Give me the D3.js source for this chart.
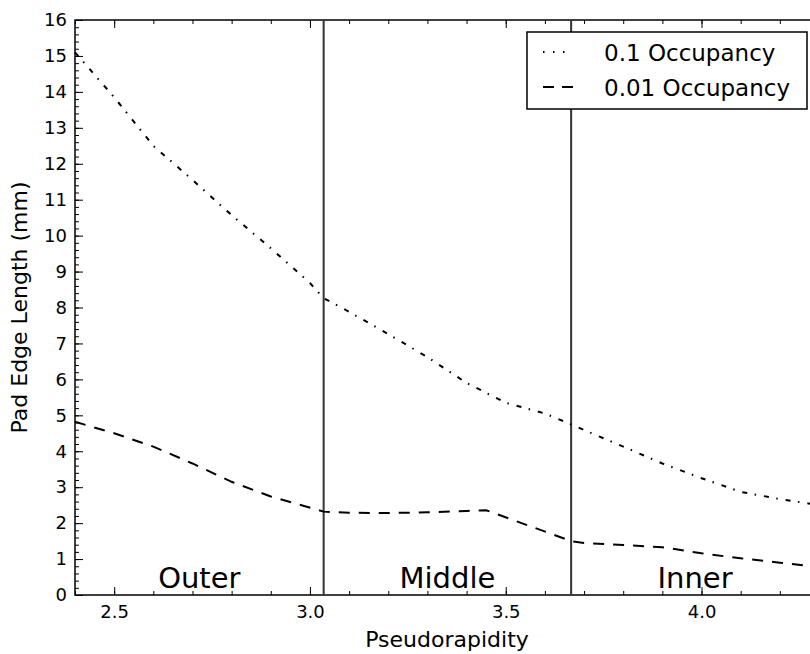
<!DOCTYPE html>
<html>
<head>
<meta charset="utf-8">
<script src="https://cdn.jsdelivr.net/npm/d3@7"></script>
<style>
  body { margin: 0; background: #fff; }
  svg text { font-family: "DejaVu Sans", sans-serif; fill: #000; }
</style>
</head>
<body>
<div id="chart"></div>
<script>
// pseudorapidity samples and pad edge lengths (mm)
const etaHigh = [2.4, 2.5, 2.6, 2.7, 2.8, 2.9, 3.0, 3.035, 3.1, 3.2, 3.3, 3.4, 3.5, 3.6, 3.667, 3.7, 3.8, 3.9, 4.0, 4.1, 4.2, 4.3];
const occHigh = [15.1, 13.85, 12.5, 11.55, 10.57, 9.65, 8.68, 8.26, 7.88, 7.26, 6.62, 5.9, 5.35, 5.05, 4.75, 4.59, 4.13, 3.66, 3.25, 2.87, 2.67, 2.5];
const etaLow = [2.4, 2.5, 2.6, 2.7, 2.8, 2.9, 3.035, 3.1, 3.2, 3.3, 3.4, 3.45, 3.667, 3.7, 3.8, 3.9, 4.0, 4.1, 4.2, 4.3];
const occLow = [4.82, 4.5, 4.13, 3.66, 3.15, 2.74, 2.32, 2.29, 2.28, 2.3, 2.34, 2.36, 1.5, 1.45, 1.39, 1.33, 1.16, 1.02, 0.9, 0.78];

const seriesNames = ["0.1 Occupancy", "0.01 Occupancy"];
const regionEdges = [3.035, 3.667];
const regionNames = ["Outer", "Middle", "Inner"];
const xTicks = [2.5, 3.0, 3.5, 4.0];

const W = 810, H = 654;
const margin = {top: 20, right: -9, bottom: 59, left: 75};
const width = W - margin.left - margin.right,
      height = H - margin.top - margin.bottom;

const svg = d3.select("#chart").append("svg")
    .attr("width", W).attr("height", H);
const g = svg.append("g")
    .attr("transform", "translate(" + margin.left + "," + margin.top + ")");

const x = d3.scaleLinear().domain([2.4, 4.3]).range([0, width]);
const y = d3.scaleLinear().domain([0, 16]).range([height, 0]);

// minor ticks
const xMinor = d3.range(24, 44).map(d => d / 10);
const yMinor = d3.range(0, 81).map(d => d / 5);

function styleAxis(sel) {
  sel.select(".domain").remove();
  sel.selectAll(".tick line").attr("stroke", "#000").attr("stroke-width", 1);
  sel.selectAll("text").style("font-size", "18px").style("font-family", "DejaVu Sans");
}

g.append("g").attr("transform", "translate(0," + height + ")")
  .call(d3.axisBottom(x).tickValues(xMinor).tickSize(-4).tickFormat(""))
  .call(styleAxis);
g.append("g").attr("transform", "translate(0," + height + ")")
  .call(d3.axisBottom(x).tickValues(xTicks).tickSize(-8).tickPadding(10).tickFormat(d3.format(".1f")))
  .call(styleAxis);
g.append("g")
  .call(d3.axisTop(x).tickValues(xMinor).tickSize(-4).tickFormat(""))
  .call(styleAxis);
g.append("g")
  .call(d3.axisTop(x).tickValues(xTicks).tickSize(-8).tickFormat(""))
  .call(styleAxis);

g.append("g")
  .call(d3.axisLeft(y).tickValues(yMinor).tickSize(-4).tickFormat(""))
  .call(styleAxis);
g.append("g")
  .call(d3.axisLeft(y).ticks(16).tickSize(-8).tickPadding(8).tickFormat(d3.format("d")))
  .call(styleAxis);

// frame
g.append("rect")
  .attr("x", 0).attr("y", 0).attr("width", width).attr("height", height)
  .attr("fill", "none").attr("stroke", "#000").attr("stroke-width", 1.5);

// region boundaries
g.selectAll(".edge").data(regionEdges).enter().append("line")
  .attr("x1", d => x(d)).attr("x2", d => x(d))
  .attr("y1", 0).attr("y2", height)
  .attr("stroke", "#333").attr("stroke-width", 2);

// region labels at middle of each region
const bounds = [x.domain()[0]].concat(regionEdges, [x.domain()[1]]);
g.selectAll(".region").data(regionNames).enter().append("text")
  .attr("x", (d, i) => x((bounds[i] + bounds[i + 1]) / 2))
  .attr("y", y(0) - 7)
  .attr("text-anchor", "middle")
  .style("font-size", "29px")
  .text(d => d);

const line = d3.line().x(d => x(d[0])).y(d => y(d[1]));
const dashes = ["5,7.5,1.5,8", "11,9"];

g.append("path")
  .datum(d3.zip(etaHigh, occHigh))
  .attr("d", line)
  .attr("fill", "none").attr("stroke", "#000").attr("stroke-width", 2)
  .attr("stroke-dasharray", dashes[0]);
g.append("path")
  .datum(d3.zip(etaLow, occLow))
  .attr("d", line)
  .attr("fill", "none").attr("stroke", "#000").attr("stroke-width", 2)
  .attr("stroke-dasharray", dashes[1]);

// legend
const leg = svg.append("g").attr("transform", "translate(527,32)");
leg.append("rect").attr("width", 280).attr("height", 77)
  .attr("fill", "#fff").attr("stroke", "#000").attr("stroke-width", 1.5);
seriesNames.forEach(function(name, i) {
  const yy = 20 + i * 35;
  leg.append("line")
    .attr("x1", 16).attr("x2", 46).attr("y1", yy).attr("y2", yy)
    .attr("stroke", "#000").attr("stroke-width", 2)
    .attr("stroke-dasharray", i === 0 ? "1.5,8.5,1.5,8.5" : "11,8");
  leg.append("text")
    .attr("x", 77).attr("y", yy + 9)
    .style("font-size", "23px")
    .text(name);
});

// axis labels
svg.append("text")
  .attr("x", margin.left + x(3.35)).attr("y", 647)
  .attr("text-anchor", "middle")
  .style("font-size", "22px")
  .text("Pseudorapidity");
svg.append("text")
  .attr("transform", "translate(27," + (margin.top + height / 2) + ") rotate(-90)")
  .attr("text-anchor", "middle")
  .style("font-size", "22px")
  .text("Pad Edge Length (mm)");
</script>
</body>
</html>
